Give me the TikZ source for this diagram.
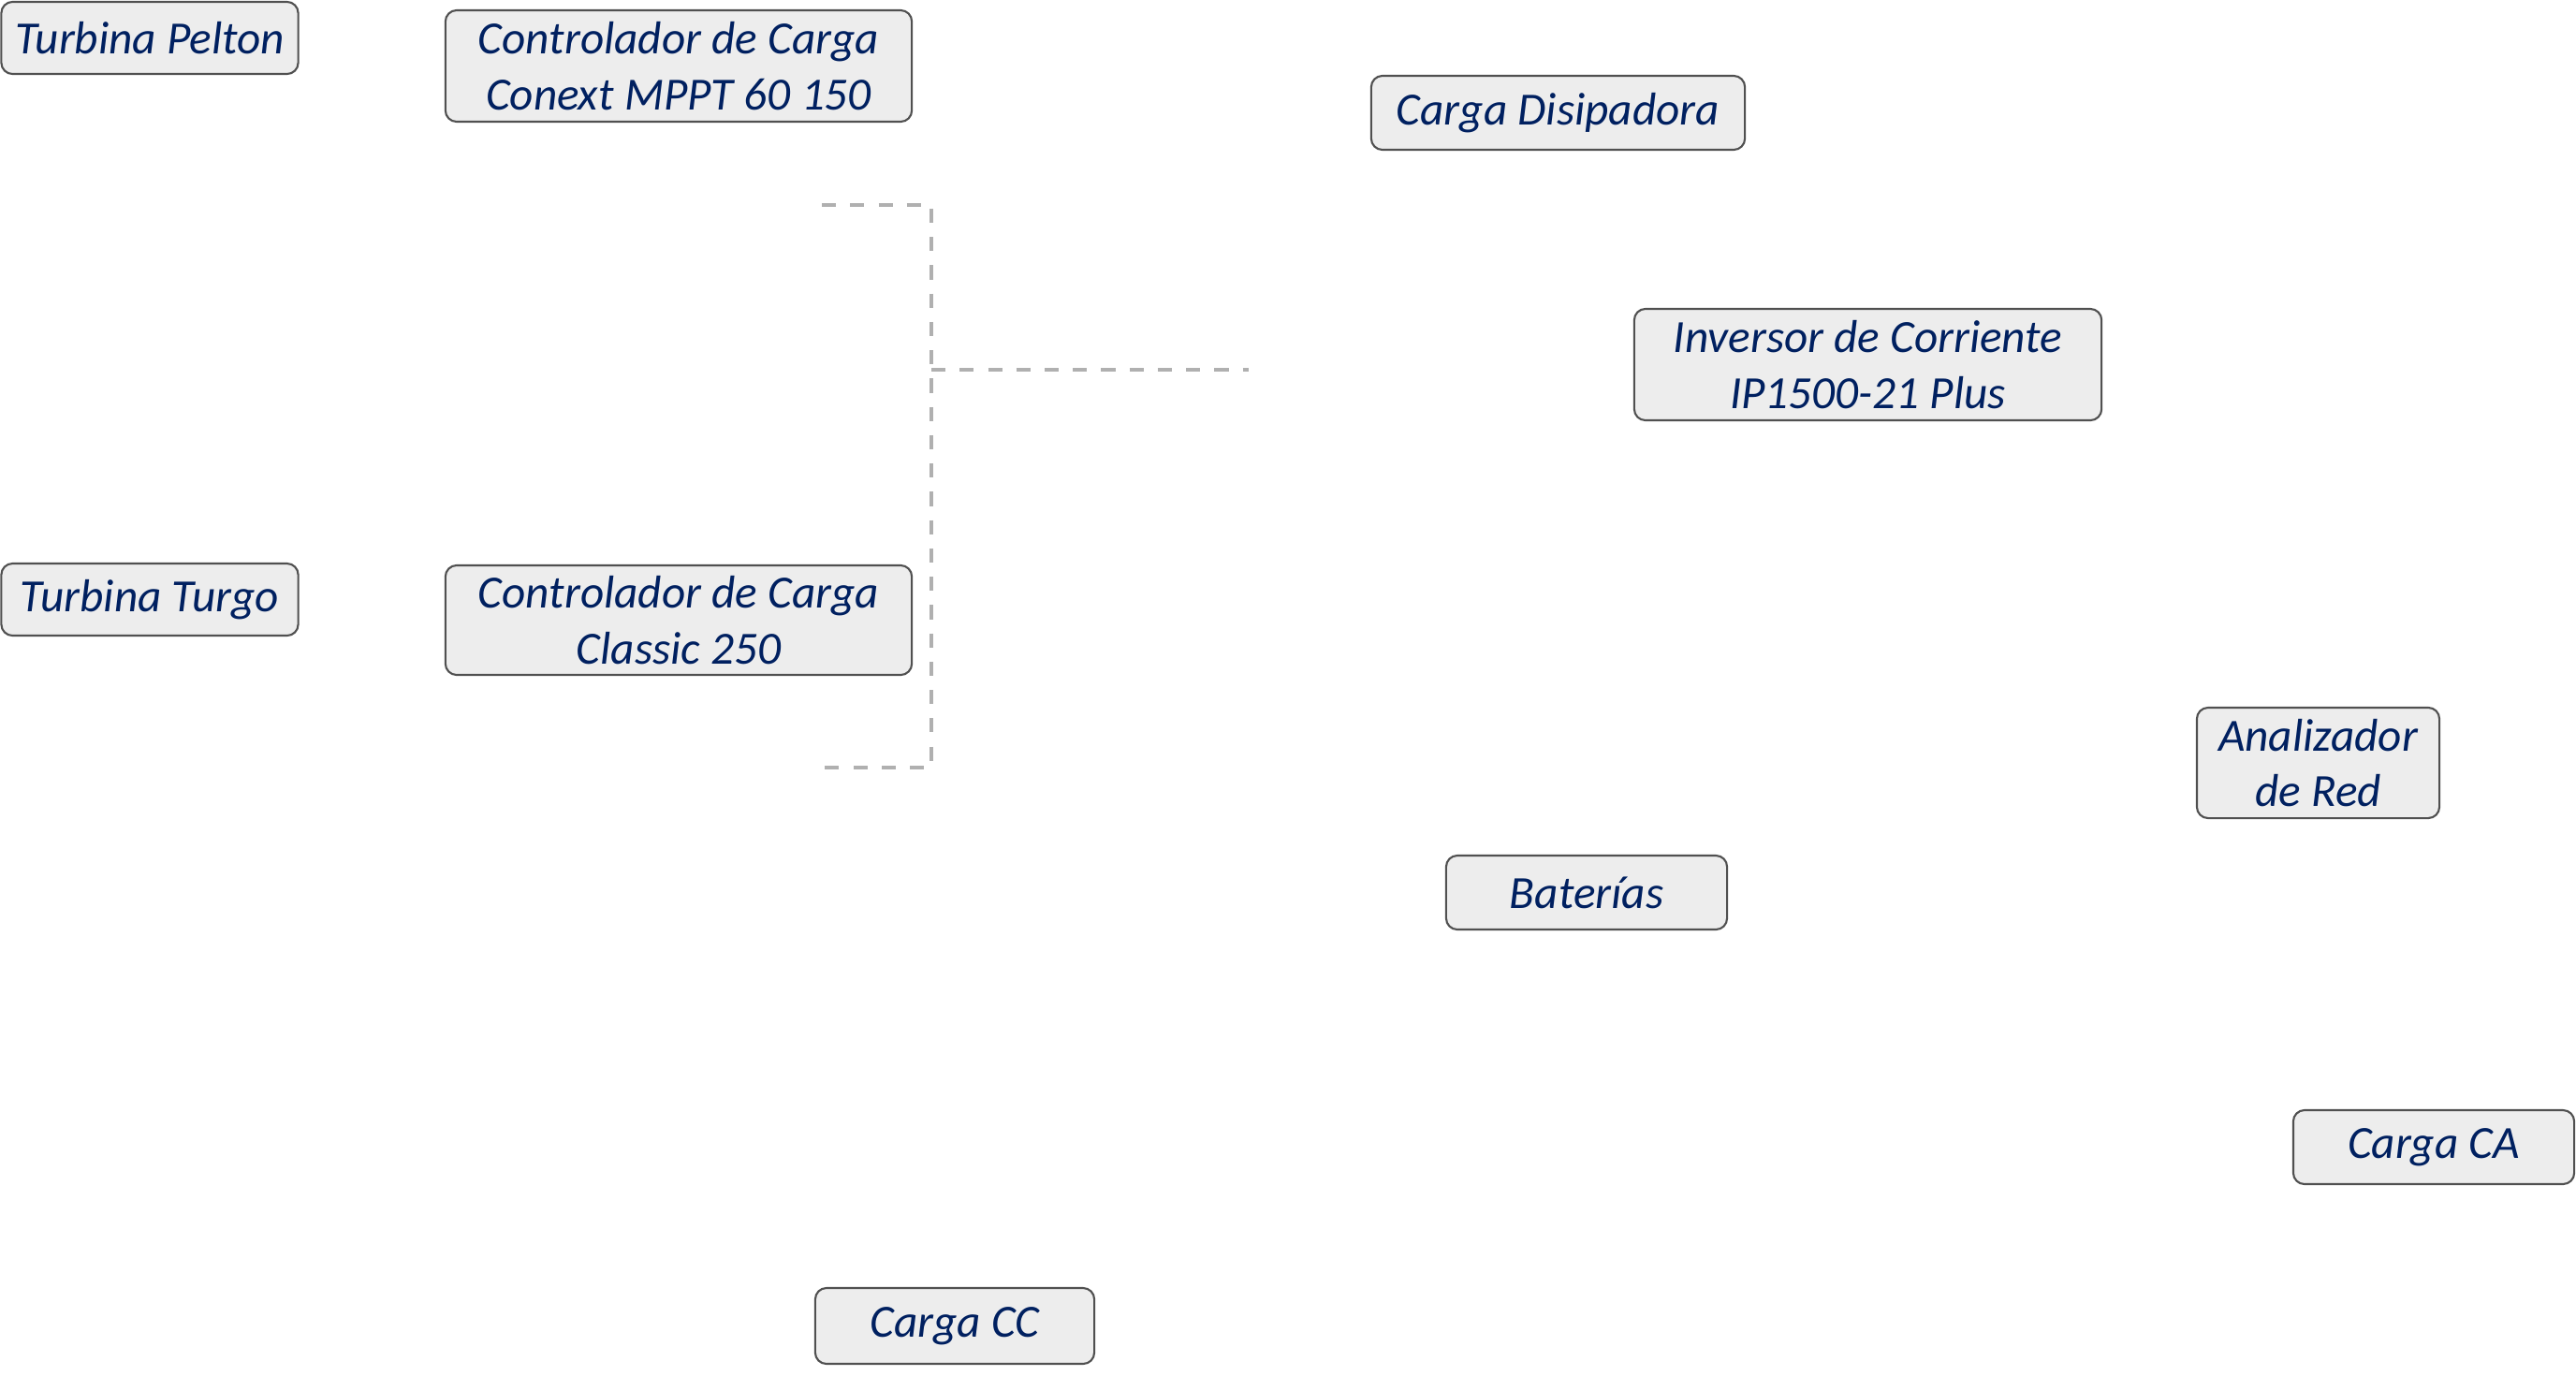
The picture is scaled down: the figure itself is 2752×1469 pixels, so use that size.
\documentclass[tikz,border=0pt]{standalone}
\usepackage{fontspec}
\setmainfont{Carlito}
\definecolor{navy}{RGB}{0,32,96}
\definecolor{boxfill}{RGB}{237,237,237}
\definecolor{boxline}{RGB}{80,80,80}
\definecolor{wire}{RGB}{176,176,176}
\tikzset{
  box/.style={draw=boxline, line width=0.6pt, fill=boxfill, rounded corners=0.12cm,
    inner sep=0pt, align=center, text=navy,
    font=\fontsize{14}{17}\selectfont\itshape},
  wiredash/.style={draw=wire, line width=1.3pt, dash pattern=on 4.3pt off 4.3pt}
}
\begin{document}
\begin{tikzpicture}[x=0.01cm, y=-0.01cm]
  \useasboundingbox (0,0) rectangle (2752,1469);

  %% turbinas y controladores
  \node[box, minimum width=3.17cm, minimum height=0.77cm] (pelton) at (160,40.5) {Turbina Pelton};
  \node[box, minimum width=3.17cm, minimum height=0.77cm] (turgo) at (160,640.5) {Turbina Turgo};
  \node[box, minimum width=4.98cm, minimum height=1.19cm] (conext) at (725,70.5) {Controlador de Carga\\Conext MPPT 60 150};
  \node[box, minimum width=4.98cm, minimum height=1.17cm] (classic) at (725,662.5) {Controlador de Carga\\Classic 250};

  %% cargas
  \node[box, minimum width=3.99cm, minimum height=0.79cm] (disipadora) at (1664.5,120.5) {Carga Disipadora};
  \node[box, minimum width=4.99cm, minimum height=1.19cm] (inversor) at (1995.5,389.5) {Inversor de Corriente\\IP1500-21 Plus};
  \node[box, minimum width=2.59cm, minimum height=1.18cm] (analizador) at (2476.5,815) {Analizador\\de Red};
  \node[box, minimum width=3.00cm, minimum height=0.79cm] (baterias) at (1695,953.5) {Baterías};
  \node[box, minimum width=3.00cm, minimum height=0.79cm] (cargaca) at (2600,1225.5) {Carga CA};
  \node[box, minimum width=2.98cm, minimum height=0.81cm] (cargacc) at (1020,1416.5) {Carga CC};

  %% bus
  \coordinate (bustop) at (878,219);
  \coordinate (busbot) at (878,820);
  \coordinate (jtop) at (995,219);
  \coordinate (jbot) at (995,820);
  \coordinate (jmid) at (995,395);
  \coordinate (busend) at (1334,395);
  \draw[wiredash] (bustop) -- (jtop) -- (jbot) -- (busbot);
  \draw[wiredash] (jmid) -- (busend);

\end{tikzpicture}
\end{document}
